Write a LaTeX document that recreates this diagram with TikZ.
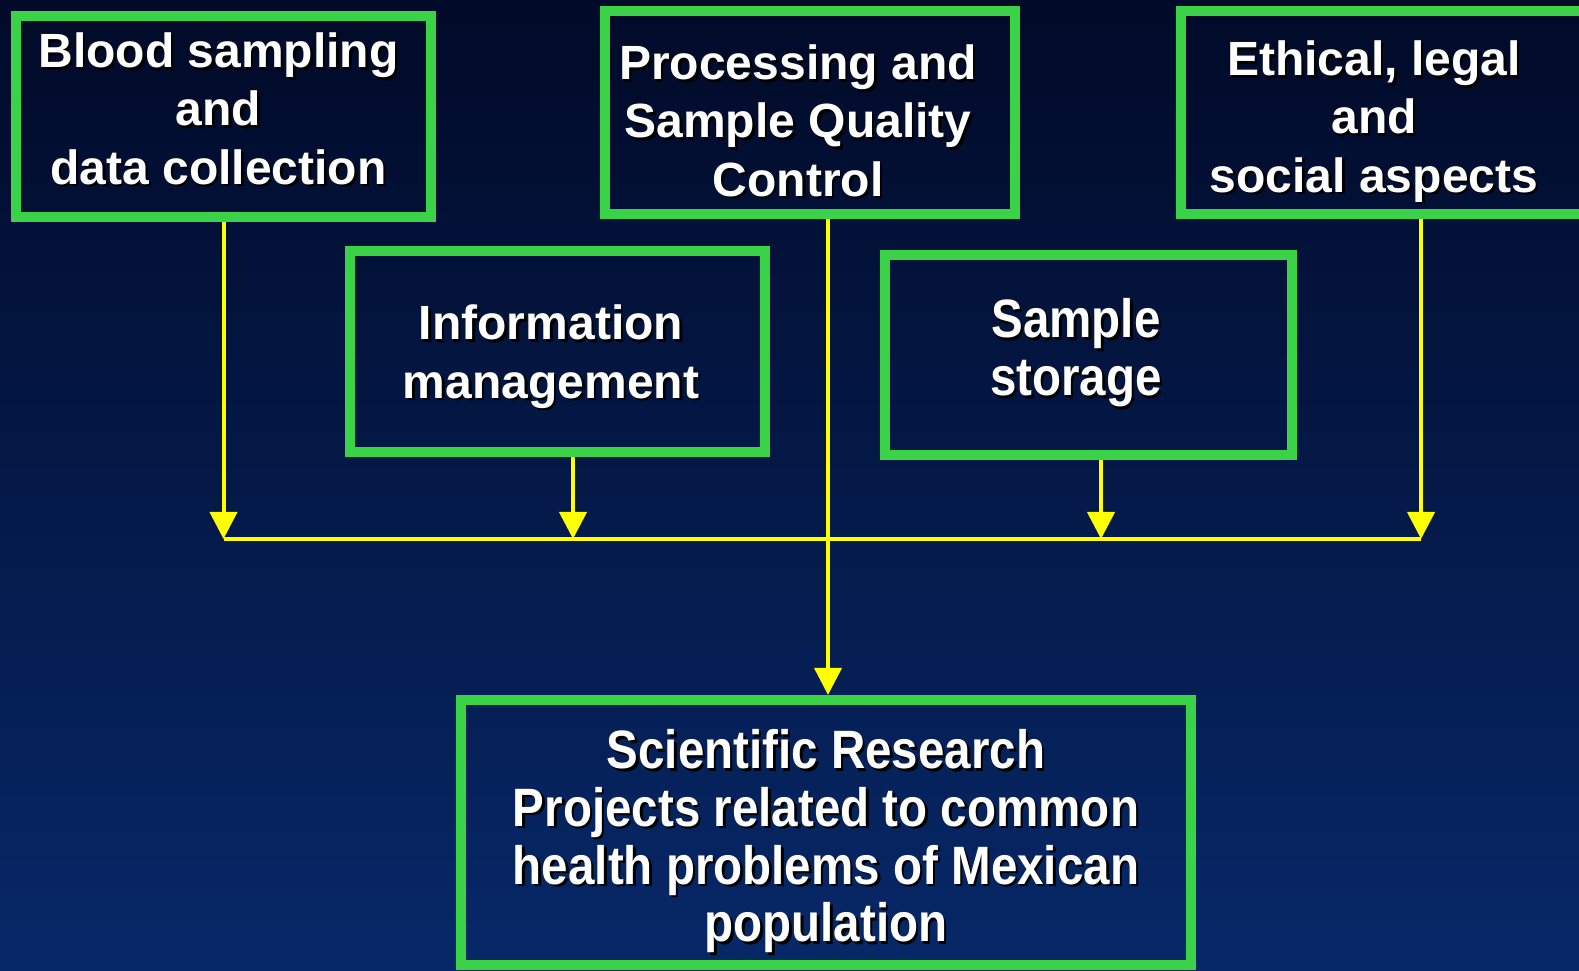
\documentclass[tikz,border=0pt]{standalone}
\usepackage{fontspec}
\setmainfont{Liberation Sans}
\newfontfamily\narrowfont{Liberation Sans}[FakeStretch=0.88]
\usepackage{xcolor}
\usetikzlibrary{positioning}
\usetikzlibrary{arrows.meta}

\definecolor{bgtop}{RGB}{1,10,40}
\definecolor{bgmid}{RGB}{4,32,88}
\definecolor{bgbottom}{RGB}{7,40,104}
\definecolor{framegreen}{RGB}{58,210,70}
\definecolor{flowyellow}{RGB}{255,255,0}

% white text with a small black drop shadow
\newcommand{\shadowed}[1]{\rlap{\kern0.025cm\raisebox{-0.025cm}{\color{black}#1}}#1}

\begin{document}
\begin{tikzpicture}[
    x=0.01cm, y=-0.01cm,
    block/.style={
        rectangle,
        draw=framegreen,
        line width=0.1cm,
        text=white,
        inner sep=0pt,
        text height=0pt,
        font=\fontsize{0.48cm}{0.58cm}\selectfont\bfseries
    },
    narrowblock/.style={
        block,
        font=\narrowfont\fontsize{0.54cm}{0.575cm}\selectfont\bfseries
    },
    flow/.style={
        -{Triangle[width=0.27cm, length=0.27cm]},
        draw=flowyellow,
        line width=0.04cm
    },
    bus/.style={
        draw=flowyellow,
        line width=0.04cm
    }
]

\useasboundingbox (0,0) rectangle (1579,971);
\shade[top color=bgtop, middle color=bgmid, bottom color=bgbottom] (0,0) rectangle (1579,971);

% top row
\node[block, minimum width=4.15cm, minimum height=2.01cm, text depth=0.97cm] (blood) at (223.5,116.5) {
    \begin{tabular}[t]{@{}c@{\hspace{0.1cm}}}
    \shadowed{Blood sampling} \\
    \shadowed{and} \\
    \shadowed{data collection}
    \end{tabular}
};
\node[block, minimum width=4.095cm, minimum height=2.03cm, text depth=0.65cm] (process) at (810,112.5) {
    \begin{tabular}[t]{@{}c@{\hspace{0.24cm}}}
    \shadowed{Processing and} \\
    \shadowed{Sample Quality} \\
    \shadowed{Control}
    \end{tabular}
};
\node[block, minimum width=4.19cm, minimum height=2.03cm, text depth=0.73cm] (ethics) at (1390.5,112.5) {
    \begin{tabular}[t]{@{}c@{\hspace{0.33cm}}}
    \shadowed{Ethical, legal} \\
    \shadowed{and} \\
    \shadowed{social aspects}
    \end{tabular}
};

% middle row
\node[block, minimum width=4.15cm, minimum height=2.01cm, text depth=0.23cm] (info) at (557.5,351.5) {
    \begin{tabular}[t]{@{}c@{\hspace{0.13cm}}}
    \shadowed{Information} \\
    \shadowed{management}
    \end{tabular}
};
\node[narrowblock, minimum width=4.07cm, minimum height=2.0cm, text depth=0.34cm] (storage) at (1088.5,355) {
    \begin{tabular}[t]{@{}c@{\hspace{0.25cm}}}
    \shadowed{Sample} \\
    \shadowed{storage}
    \end{tabular}
};

% result
\node[narrowblock, minimum width=7.3cm, minimum height=2.65cm, text depth=1.27cm] (research) at (826,832.5) {
    \begin{tabular}[t]{@{}c@{}}
    \shadowed{Scientific Research} \\
    \shadowed{Projects related to common} \\
    \shadowed{health problems of Mexican} \\
    \shadowed{population}
    \end{tabular}
};

% collecting line and arrows
\coordinate (busleft) at (blood.south |- 0,539);
\coordinate (busright) at ([xshift=0.305cm]ethics.south |- 0,539);
\draw[bus] (busleft) -- (busright);

\draw[flow] (blood.south) -- (busleft);
\draw[flow] ([xshift=0.155cm]info.south) -- ([xshift=0.155cm]info.south |- busleft);
\draw[flow] ([xshift=0.125cm]storage.south) -- ([xshift=0.125cm]storage.south |- busleft);
\draw[flow] ([xshift=0.305cm]ethics.south) -- (busright);
\draw[flow] ([xshift=0.18cm]process.south) -- ([xshift=0.18cm]process.south |- research.north);

\end{tikzpicture}
\end{document}
